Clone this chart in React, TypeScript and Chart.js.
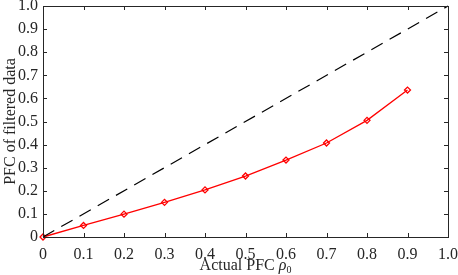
import React, { useEffect, useRef } from "react";
import { Chart, registerables } from "chart.js";

Chart.register(...registerables);

const actualPFC = [0, 0.1, 0.2, 0.3, 0.4, 0.5, 0.6, 0.7, 0.8, 0.9];
const filteredPFC = [0, 0.05, 0.099, 0.15, 0.204, 0.264, 0.333, 0.407, 0.505, 0.636];
const refX = [0, 1];
const refY = [0, 1];
const xTitle = "Actual PFC ";
const xTitleSymbol = "ρ";
const xTitleSub = "0";
const yTitle = "PFC of filtered data";

const FONT = "'Liberation Serif', 'Times New Roman', serif";
const TXT = "#262626";

const decorPlugin = {
  id: "decor",
  afterDraw(chart: any) {
    const { ctx, chartArea: a, scales } = chart;
    const xs = scales.x, ys = scales.y;
    ctx.save();
    ctx.strokeStyle = "#262626";
    ctx.lineWidth = 1;
    const len = 4;
    for (let i = 0; i <= 10; i++) {
      const v = i / 10;
      const px = Math.round(xs.getPixelForValue(v)) + 0.5;
      const py = Math.round(ys.getPixelForValue(v)) + 0.5;
      ctx.beginPath();
      ctx.moveTo(px, a.bottom); ctx.lineTo(px, a.bottom - len);
      ctx.moveTo(px, a.top); ctx.lineTo(px, a.top + len);
      ctx.moveTo(a.left, py); ctx.lineTo(a.left + len, py);
      ctx.moveTo(a.right, py); ctx.lineTo(a.right - len, py);
      ctx.stroke();
    }
    ctx.strokeRect(Math.round(a.left) + 0.5, Math.round(a.top) + 0.5, Math.round(a.right - a.left), Math.round(a.bottom - a.top));

    // x title
    ctx.fillStyle = TXT;
    ctx.textBaseline = "alphabetic";
    ctx.textAlign = "left";
    const normal = `16px ${FONT}`;
    const ital = `italic 16px ${FONT}`;
    const sub = `10px ${FONT}`;
    ctx.font = normal;
    const w1 = ctx.measureText(xTitle).width;
    ctx.font = ital;
    const w2 = ctx.measureText(xTitleSymbol).width;
    ctx.font = sub;
    const w3 = ctx.measureText(xTitleSub).width;
    const total = w1 + w2 + w3;
    const cx = (a.left + a.right) / 2;
    let x = cx - total / 2;
    const base = 270;
    ctx.font = normal;
    ctx.fillText(xTitle, x, base);
    x += w1;
    ctx.font = ital;
    ctx.fillText(xTitleSymbol, x, base);
    x += w2;
    ctx.font = sub;
    ctx.fillText(xTitleSub, x, base + 3);

    // y title
    ctx.save();
    ctx.translate(15, (a.top + a.bottom) / 2);
    ctx.rotate(-Math.PI / 2);
    ctx.font = normal;
    ctx.textAlign = "center";
    ctx.textBaseline = "alphabetic";
    ctx.fillText(yTitle, 0, 0);
    ctx.restore();

    ctx.restore();
  },
};

export default function App() {
  const ref = useRef<HTMLCanvasElement>(null);
  useEffect(() => {
    document.body.style.margin = "0";
    const chart = new Chart(ref.current!, {
      type: "line",
      data: {
        datasets: [
          {
            data: refX.map((x, i) => ({ x, y: refY[i] })),
            borderColor: "#000000",
            borderWidth: 1.2,
            borderDash: [13, 8],
            pointRadius: 0,
            fill: false,
          },
          {
            data: actualPFC.map((x, i) => ({ x, y: filteredPFC[i] })),
            borderColor: "#ff0000",
            borderWidth: 1.3,
            pointStyle: "rectRot",
            pointRadius: 3,
            pointBorderWidth: 1.3,
            pointBorderColor: "#ff0000",
            pointBackgroundColor: "rgba(255,255,255,0)",
            fill: false,
          },
        ],
      },
      options: {
        animation: false,
        responsive: false,
        clip: false as any,
        layout: { padding: { top: 6, right: 10, left: 0, bottom: 0 } },
        plugins: { legend: { display: false }, tooltip: { enabled: false } },
        scales: {
          x: {
            type: "linear",
            min: 0,
            max: 1,
            grid: { display: false },
            border: { display: false },
            ticks: {
              stepSize: 0.1,
              color: TXT,
              font: { family: FONT, size: 16 },
              padding: 0,
              maxRotation: 0,
              callback: (v: any) => (v === 0 ? "0" : Number(v).toFixed(1)),
            },
            afterFit: (s: any) => { s.height = 38; s.paddingLeft = 0; s.paddingRight = 0; },
          },
          y: {
            type: "linear",
            min: 0,
            max: 1,
            grid: { display: false, drawTicks: false },
            border: { display: false },
            ticks: {
              stepSize: 0.1,
              color: TXT,
              font: { family: FONT, size: 16 },
              padding: 5,
              callback: (v: any) => (v === 0 ? "0" : Number(v).toFixed(1)),
            },
            afterFit: (s: any) => { s.width = 43; s.paddingTop = 0; s.paddingBottom = 0; },
          },
        },
      },
      plugins: [decorPlugin],
    } as any);
    return () => chart.destroy();
  }, []);
  return (
    <div style={{ width: 458, height: 275 }}>
      <canvas ref={ref} width={458} height={275} />
    </div>
  );
}
